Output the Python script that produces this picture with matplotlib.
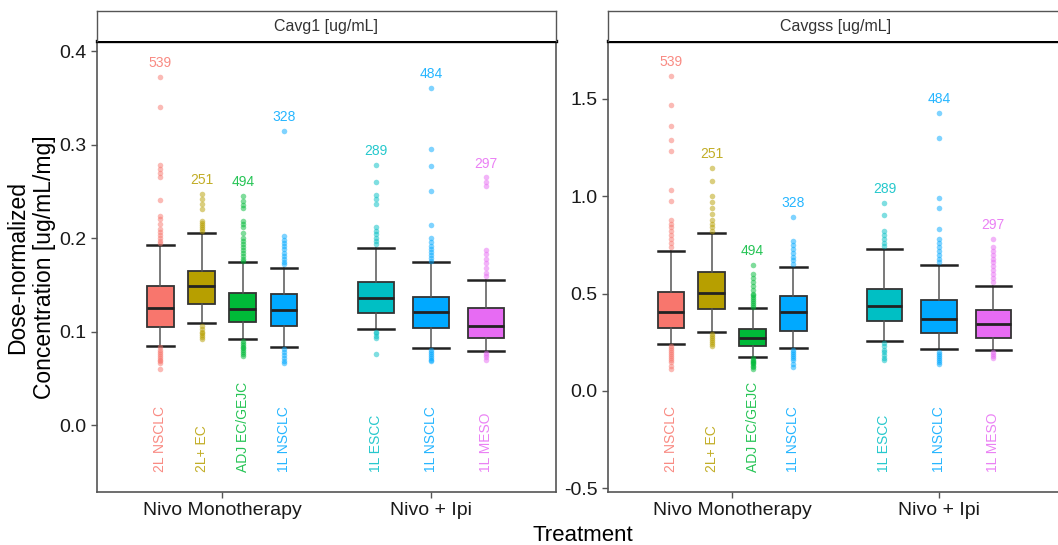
import numpy as np
import matplotlib.pyplot as plt
from matplotlib.transforms import blended_transform_factory

plt.rcParams['font.family'] = ['Liberation Sans', 'DejaVu Sans']

treatments = ['Nivo Monotherapy', 'Nivo + Ipi']
groups = ['2L NSCLC', '2L+ EC', 'ADJ EC/GEJC', '1L NSCLC', '1L ESCC', '1L NSCLC', '1L MESO']
group_treatment = [0, 0, 0, 0, 1, 1, 1]
group_colors = ['#F8766D', '#B79F00', '#00BA38', '#00A9FF', '#00BFC4', '#00A9FF', '#E76BF3']
n_subjects = [539, 251, 494, 328, 289, 484, 297]

# Cavg1 box stats per group
cavg1_whislo = [0.0845, 0.1088, 0.092, 0.0838, 0.1023, 0.082, 0.079]
cavg1_q1 = [0.105, 0.129, 0.1098, 0.1059, 0.120, 0.1034, 0.0934]
cavg1_med = [0.1248, 0.1487, 0.124, 0.123, 0.136, 0.1205, 0.106]
cavg1_q3 = [0.1487, 0.165, 0.1415, 0.1398, 0.1533, 0.137, 0.1255]
cavg1_whishi = [0.1925, 0.205, 0.174, 0.168, 0.1897, 0.174, 0.155]
cavg1_fliers = [
    [0.373, 0.340, 0.278, 0.274, 0.270, 0.265, 0.241, 0.224, 0.220, 0.215, 0.210, 0.207,
     0.203, 0.200, 0.197, 0.195, 0.083, 0.080, 0.078, 0.076, 0.074, 0.072, 0.070, 0.068,
     0.066, 0.060],
    [0.247, 0.242, 0.237, 0.231, 0.218, 0.216, 0.214, 0.212, 0.210, 0.208, 0.106, 0.103,
     0.100, 0.098, 0.096, 0.094, 0.092],
    [0.245, 0.240, 0.235, 0.232, 0.218, 0.215, 0.212, 0.205, 0.200, 0.197, 0.194, 0.190,
     0.187, 0.184, 0.181, 0.178, 0.176, 0.090, 0.088, 0.086, 0.084, 0.082, 0.080, 0.078,
     0.076, 0.074],
    [0.315, 0.202, 0.198, 0.195, 0.192, 0.188, 0.184, 0.181, 0.178, 0.175, 0.172, 0.081,
     0.078, 0.075, 0.072, 0.069, 0.066],
    [0.278, 0.260, 0.246, 0.242, 0.237, 0.212, 0.208, 0.204, 0.200, 0.197, 0.194, 0.100,
     0.098, 0.095, 0.093, 0.076],
    [0.361, 0.295, 0.277, 0.250, 0.214, 0.200, 0.196, 0.192, 0.188, 0.185, 0.182, 0.179,
     0.176, 0.080, 0.078, 0.076, 0.074, 0.072, 0.070, 0.068],
    [0.265, 0.260, 0.256, 0.187, 0.183, 0.178, 0.173, 0.168, 0.163, 0.159, 0.077, 0.075,
     0.073, 0.070],
]

# Cavgss box stats per group
cavgss_whislo = [0.240, 0.300, 0.176, 0.219, 0.257, 0.214, 0.211]
cavgss_q1 = [0.322, 0.421, 0.228, 0.308, 0.360, 0.296, 0.274]
cavgss_med = [0.404, 0.502, 0.271, 0.404, 0.437, 0.370, 0.344]
cavgss_q3 = [0.510, 0.613, 0.317, 0.485, 0.524, 0.468, 0.413]
cavgss_whishi = [0.721, 0.810, 0.425, 0.639, 0.730, 0.647, 0.540]
cavgss_fliers = [
    [1.62, 1.47, 1.36, 1.29, 1.235, 1.03, 0.975, 0.88, 0.86, 0.84, 0.82, 0.80, 0.78, 0.76,
     0.74, 0.23, 0.22, 0.21, 0.20, 0.19, 0.18, 0.17, 0.16, 0.15, 0.13, 0.11],
    [1.145, 1.08, 1.00, 0.97, 0.94, 0.91, 0.88, 0.86, 0.84, 0.82, 0.29, 0.28, 0.27, 0.26,
     0.25, 0.24, 0.23],
    [0.645, 0.60, 0.58, 0.56, 0.54, 0.52, 0.50, 0.49, 0.48, 0.47, 0.46, 0.45, 0.44, 0.43,
     0.17, 0.16, 0.155, 0.15, 0.145, 0.14, 0.13, 0.12, 0.11],
    [0.895, 0.77, 0.75, 0.73, 0.71, 0.69, 0.67, 0.65, 0.21, 0.20, 0.19, 0.18, 0.17, 0.16,
     0.14, 0.12],
    [0.965, 0.905, 0.82, 0.80, 0.78, 0.76, 0.745, 0.245, 0.23, 0.21, 0.20, 0.185, 0.17, 0.16],
    [1.43, 1.30, 0.99, 0.94, 0.83, 0.78, 0.76, 0.74, 0.72, 0.70, 0.68, 0.66, 0.20, 0.19,
     0.18, 0.17, 0.16, 0.15, 0.14],
    [0.78, 0.74, 0.72, 0.70, 0.68, 0.66, 0.64, 0.62, 0.60, 0.58, 0.56, 0.20, 0.19, 0.18, 0.17],
]

W, H = 1058, 545
fig = plt.figure(figsize=(W / 100, H / 100), dpi=100)

DODGE = 0.79


def positions():
    pos, widths = [], []
    for t in range(len(treatments)):
        idx = [i for i, g in enumerate(group_treatment) if g == t]
        slot = DODGE / len(idx)
        for k, i in enumerate(idx):
            pos.append(t + 1 - DODGE / 2 + slot * (k + 0.5))
            widths.append(slot * 0.65)
    return pos, widths


def draw_panel(left_px, width_px, title, whislo, q1, med, q3, whishi, fliers, ylim, yticks):
    top_px, bot_px = 41, 492
    ax = fig.add_axes([left_px / W, 1 - bot_px / H, width_px / W, (bot_px - top_px) / H])
    pos, widths = positions()
    tr = blended_transform_factory(ax.transData, ax.transAxes)
    for i in range(len(groups)):
        st = dict(med=med[i], q1=q1[i], q3=q3[i], whislo=whislo[i], whishi=whishi[i],
                  fliers=fliers[i])
        c = group_colors[i]
        ax.bxp([st], positions=[pos[i]], widths=[widths[i]], capwidths=[widths[i]],
               patch_artist=True, manage_ticks=False,
               boxprops=dict(facecolor=c, edgecolor='#333333', linewidth=1.3),
               medianprops=dict(color='#222222', linewidth=2.0),
               whiskerprops=dict(color='#555555', linewidth=1.1),
               capprops=dict(color='#222222', linewidth=1.8),
               flierprops=dict(marker='o', markerfacecolor=c, markeredgecolor='none',
                               markersize=4, alpha=0.5))
        top = max(fliers[i] + [whishi[i]])
        ax.annotate(str(n_subjects[i]), (pos[i], top), xytext=(0, 10),
                    textcoords='offset points', ha='center', va='center',
                    fontsize=10, color=c, alpha=0.85)
        ax.text(pos[i], 0.044, groups[i], transform=tr, rotation=90, ha='center',
                va='bottom', fontsize=10, color=c, alpha=0.85)

    ax.set_xlim(0.4, 2.6)
    ax.set_ylim(*ylim)
    ax.set_xticks([1, 2])
    ax.set_xticklabels(treatments)
    ax.set_yticks(yticks)
    ax.set_yticklabels([f'{v:.1f}' for v in yticks])
    ax.tick_params(labelsize=14, colors='#555555', length=4, width=1, labelcolor='#1a1a1a')
    for s in ['left', 'bottom', 'right']:
        ax.spines[s].set_color('#555555')
        ax.spines[s].set_linewidth(1.2)
    ax.spines['top'].set_color('black')
    ax.spines['top'].set_linewidth(2.4)

    sx = fig.add_axes([left_px / W, 1 - top_px / H, width_px / W, 30 / H])
    sx.set_xticks([])
    sx.set_yticks([])
    for s in sx.spines.values():
        s.set_color('#555555')
        s.set_linewidth(1.0)
    sx.spines['bottom'].set_visible(False)
    sx.text(0.5, 0.5, title, ha='center', va='center', fontsize=11.5, color='#333333',
            transform=sx.transAxes)
    return ax


draw_panel(97, 459, 'Cavg1 [ug/mL]', cavg1_whislo, cavg1_q1, cavg1_med, cavg1_q3,
           cavg1_whishi, cavg1_fliers, (-0.0717, 0.411), [0.0, 0.1, 0.2, 0.3, 0.4])
draw_panel(608, 455, 'Cavgss [ug/mL]', cavgss_whislo, cavgss_q1, cavgss_med, cavgss_q3,
           cavgss_whishi, cavgss_fliers, (-0.52, 1.798), [-0.5, 0.0, 0.5, 1.0, 1.5])

fig.text(583 / W, 0.018, 'Treatment', ha='center', va='center', fontsize=16)
fig.text(31 / W, 0.51, 'Dose-normalized\nConcentration [ug/mL/mg]', rotation=90,
         ha='center', va='center', fontsize=16.5, multialignment='center', linespacing=1.2)

fig.savefig('out.png', dpi=100)
